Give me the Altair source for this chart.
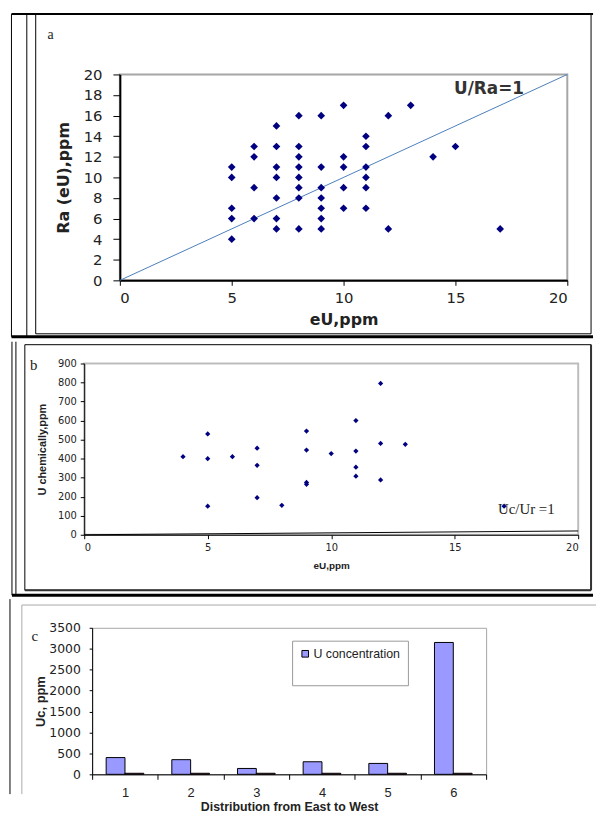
import altair as alt
import pandas as pd

# ---------------- data ----------------
# panel a : Ra(eU) vs eU
a_eU = [5, 5, 5, 5, 5, 6, 6, 6, 6, 7, 7, 7, 7, 7, 7, 7, 8, 8, 8, 8, 8, 8, 8, 8,
        9, 9, 9, 9, 9, 9, 9, 10, 10, 10, 10, 10, 11, 11, 11, 11, 11, 11, 12, 12, 13, 14, 15, 17]
a_Ra = [11, 10, 7, 6, 4, 13, 12, 9, 6, 15, 13, 11, 10, 8, 6, 5, 16, 13, 12, 11, 10, 9, 8, 5,
        16, 11, 9, 8, 7, 6, 5, 17, 12, 11, 9, 7, 14, 13, 11, 10, 9, 7, 16, 5, 17, 12, 13, 5]
a_line_x = [0, 20]
a_line_y = [0, 20]

# panel b : U chemically vs eU
b_eU = [4, 5, 5, 5, 6, 7, 7, 7, 8, 9, 9, 9, 9, 10, 11, 11, 11, 11, 12, 12, 12, 13, 17]
b_Uc = [410, 530, 400, 150, 410, 455, 365, 195, 155, 545, 445, 275, 265, 427, 600, 440,
        355, 308, 795, 480, 288, 475, 150]
b_line_x = [0, 20]
b_line_y = [0, 20]

# panel c : distribution from East to West
c_cats = ["1", "2", "3", "4", "5", "6"]
c_series = ["U concentration", "eU"]
c_uconc = [400, 350, 140, 300, 260, 3150]
c_second = [25, 25, 25, 25, 25, 25]

SANS = "DejaVu Sans"
ARIAL = "Liberation Sans"
SERIF = "Liberation Serif"
ONE = alt.Data(values=[{"k": 1}])


def rule(x, y, x2, y2, color="black", width=1.0):
    return alt.Chart(ONE).mark_rule(color=color, strokeWidth=width).encode(
        x=alt.value(x), y=alt.value(y), x2=alt.value(x2), y2=alt.value(y2))


def box(x, y, x2, y2, color="black", width=1.0):
    return alt.Chart(ONE).mark_rect(fill="transparent", stroke=color, strokeWidth=width).encode(
        x=alt.value(x), y=alt.value(y), x2=alt.value(x2), y2=alt.value(y2))


def label(txt, x, y, size=14, font=SERIF):
    return alt.Chart(ONE).mark_text(text=txt, font=font, fontSize=size, color="#222").encode(
        x=alt.value(x), y=alt.value(y))


def spacer():
    return alt.Chart(ONE).mark_rule(opacity=0).encode(
        x=alt.value(0), y=alt.value(0), x2=alt.value(0), y2=alt.value(0)
    ).properties(width=1, height=1)


# ---------------- panel a ----------------
df_a = pd.DataFrame({"eU": a_eU, "Ra": a_Ra})
df_a_line = pd.DataFrame({"eU": a_line_x, "Ra": a_line_y})
df_a_txt = pd.DataFrame({"eU": [16.5], "Ra": [18.6]})

xa = alt.X("eU:Q", scale=alt.Scale(domain=[0, 20], nice=False),
           axis=alt.Axis(values=[0, 5, 10, 15, 20], title="eU,ppm", labelFont=SANS, labelFontSize=15,
                         titleFont=SANS, titleFontSize=16, titleFontWeight="bold", tickSize=5,
                         labelPadding=5, titlePadding=7, domainWidth=2))
ya = alt.Y("Ra:Q", scale=alt.Scale(domain=[0, 20], nice=False),
           axis=alt.Axis(values=list(range(0, 21, 2)), title="Ra (eU),ppm", labelFont=SANS, labelFontSize=15,
                         titleFont=SANS, titleFontSize=16, titleFontWeight="bold", tickSize=7,
                         labelPadding=11, titlePadding=12, domainWidth=2))

pa = alt.layer(
    rule(-109.5, -61, -109.5, 265),
    rule(-94, -61, -94, 265),
    box(-85, -61, 476, 262),
    rule(-109.5, -61, 478, -61, width=2),
    rule(-109.5, 265, 478, 265, width=3),
    label("a", -70, -40, 14),
    alt.Chart(df_a_line).mark_line(color="#4a7ebb", strokeWidth=1).encode(x=xa, y=ya),
    alt.Chart(df_a).mark_point(shape="diamond", filled=True, color="#000080", size=60, opacity=1).encode(x=xa, y=ya),
    alt.Chart(df_a_txt).mark_text(text="U/Ra=1", font=SANS, fontWeight="bold", fontSize=17, color="#333").encode(x=xa, y=ya),
).properties(width=452, height=208, view=alt.ViewBackground(stroke="#a6a6a6", strokeWidth=2))

# ---------------- panel b ----------------
df_b = pd.DataFrame({"eU": b_eU, "Uc": b_Uc})
df_b_line = pd.DataFrame({"eU": b_line_x, "Uc": b_line_y})
df_b_txt = pd.DataFrame({"eU": [17.9], "Uc": [135]})

xb = alt.X("eU:Q", scale=alt.Scale(domain=[0, 20], nice=False),
           axis=alt.Axis(values=[0, 5, 10, 15, 20], title="eU,ppm", labelFont=SANS, labelFontSize=10,
                         titleFont=ARIAL, titleFontSize=10, titleFontWeight="bold", tickSize=4,
                         labelPadding=4, titlePadding=8))
yb = alt.Y("Uc:Q", scale=alt.Scale(domain=[0, 900], nice=False),
           axis=alt.Axis(values=list(range(0, 901, 100)), title="U chemically,ppm", labelFont=SANS,
                         labelFontSize=10, titleFont=ARIAL, titleFontSize=11, titleFontWeight="bold",
                         tickSize=4, labelPadding=4, titlePadding=10))

pb = alt.layer(
    rule(-73, -22, -73, 234),
    rule(-69, -22, -69, 234),
    box(-60, -19, 512, 229),
    rule(512, -19, 512, 229, width=2, color="#333"),
    rule(-60, 229, 512, 229, width=2, color="#333"),
    rule(-73, 234, 514, 234, width=3),
    label("b", -51, 2, 15),
    alt.Chart(df_b_line).mark_line(color="black", strokeWidth=1).encode(x=xb, y=yb),
    alt.Chart(df_b).mark_point(shape="diamond", filled=True, color="#000080", size=28, opacity=1).encode(x=xb, y=yb),
    alt.Chart(df_b_txt).mark_text(text="Uc/Ur =1", font=SERIF, fontSize=15, color="#222").encode(x=xb, y=yb),
).properties(width=499, height=173, view=alt.ViewBackground(stroke="#bdbdbd", strokeWidth=2))

# ---------------- panel c ----------------
df_c = pd.DataFrame({
    "cat": c_cats + c_cats,
    "series": [c_series[0]] * len(c_cats) + [c_series[1]] * len(c_cats),
    "val": c_uconc + c_second,
})

xc = alt.X("cat:N", sort=c_cats, scale=alt.Scale(paddingInner=0, paddingOuter=0),
           axis=alt.Axis(tickBand="extent", labelAngle=0, title="Distribution from East to West",
                         labelFont=ARIAL, labelFontSize=13, titleFont=ARIAL, titleFontSize=12.5,
                         titleFontWeight="bold", tickSize=5, labelPadding=7, titlePadding=2))
yc = alt.Y("val:Q", scale=alt.Scale(domain=[0, 3500], nice=False),
           axis=alt.Axis(values=list(range(0, 3501, 500)), format="d", title="Uc, ppm", labelFont=SANS,
                         labelFontSize=12.5, titleFont=ARIAL, titleFontSize=13, titleFontWeight="bold",
                         tickSize=3, labelPadding=9, titlePadding=1))

bars = alt.Chart(df_c).mark_bar(stroke="black", strokeWidth=1).encode(
    x=xc,
    xOffset=alt.XOffset("series:N", sort=c_series, scale=alt.Scale(paddingInner=0, paddingOuter=0.745)),
    y=yc,
    color=alt.Color("series:N", scale=alt.Scale(domain=c_series, range=["#9999ff", "#993366"]),
                    legend=alt.Legend(orient="none", legendX=287, legendY=13, values=[c_series[0]], title=" ",
                                      titleOrient="bottom", titleFontSize=17, titlePadding=2,
                                      strokeColor="#999", fillColor="white", padding=7,
                                      labelFont=ARIAL, labelFontSize=12.5, labelColor="#222",
                                      symbolType="square", symbolSize=45, symbolStrokeColor="black",
                                      symbolStrokeWidth=1, labelOffset=2)),
)

pc = alt.layer(
    rule(-83, -29, -83, 168),
    rule(-71, -23, 509, -23, color="#aaaaaa"),
    rule(-71, -23, -71, 168, color="#aaaaaa"),
    label("c", -58, 8, 15),
    bars,
).properties(width=398, height=148, view=alt.ViewBackground(stroke="#a6a6a6", strokeWidth=1))

rows = [alt.hconcat(spacer(), p, spacing=0) for p in (pa, pb, pc)]
chart = alt.vconcat(*rows, spacing=0, padding=0).resolve_scale(
    x="independent", y="independent", color="independent"
).configure_axis(
    grid=False, domainColor="black", tickColor="black", labelColor="#222", titleColor="#222"
).configure_view(strokeWidth=0)

chart.save("out.html", embed_options={"renderer": "svg", "actions": False})
